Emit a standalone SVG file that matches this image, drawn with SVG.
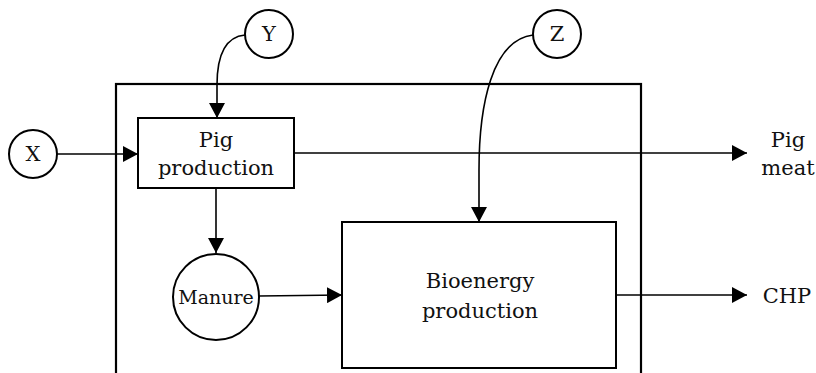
<svg xmlns="http://www.w3.org/2000/svg" width="816" height="373" viewBox="0 0 816 373">
<style>
  .box { fill: #fff; stroke: #000; stroke-width: 2; }
  .frame { fill: none; stroke: #000; stroke-width: 2.2; }
  .conn { fill: none; stroke: #000; stroke-width: 1.6; }
  text { font-family: "DejaVu Serif", "Liberation Serif", serif; fill: #111; text-anchor: middle; }
  .t21 { font-size: 21px; }
  .t19 { font-size: 19px; }
</style>
<defs>
  <marker id="arr" markerUnits="userSpaceOnUse" markerWidth="15" markerHeight="16" refX="15" refY="8" orient="auto">
    <path d="M0,0 L15,8 L0,16 z" fill="#000"/>
  </marker>
</defs>
<rect width="816" height="373" fill="#fff"/>
<g id="system-boundary">
  <rect class="frame" x="116" y="84" width="525" height="310"/>
</g>
<g id="connectors">
  <path class="conn" d="M57,154 L138,154" marker-end="url(#arr)"/>
  <path class="conn" d="M245,35 C223,37 217,60 217,85 L217,118" marker-end="url(#arr)"/>
  <path class="conn" d="M294,153 L747,153" marker-end="url(#arr)"/>
  <path class="conn" d="M533,35 C492,40 479,105 479,170 L479,222" marker-end="url(#arr)"/>
  <path class="conn" d="M216,188 L216,253" marker-end="url(#arr)"/>
  <path class="conn" d="M259,296 L342,295" marker-end="url(#arr)"/>
  <path class="conn" d="M616,295 L747,295" marker-end="url(#arr)"/>
</g>
<g id="node-x">
  <circle class="box" cx="33" cy="154" r="24"/>
  <text class="t21" x="33" y="161">X</text>
</g>
<g id="node-y">
  <circle class="box" cx="269" cy="34" r="24"/>
  <text class="t21" x="269" y="41">Y</text>
</g>
<g id="node-z">
  <circle class="box" cx="557" cy="34" r="24"/>
  <text class="t21" x="557" y="41">Z</text>
</g>
<g id="node-pig-production">
  <rect class="box" x="138" y="118" width="156" height="70"/>
  <text class="t21" x="216" y="147">Pig</text>
  <text class="t21" x="216" y="175">production</text>
</g>
<g id="node-manure">
  <circle class="box" cx="216" cy="297" r="43"/>
  <text class="t19" x="216" y="304">Manure</text>
</g>
<g id="node-bioenergy">
  <rect class="box" x="342" y="222" width="274" height="146"/>
  <text class="t21" x="480" y="288">Bioenergy</text>
  <text class="t21" x="480" y="318">production</text>
</g>
<g id="output-pig-meat">
  <text class="t21" x="788" y="147">Pig</text>
  <text class="t21" x="788" y="175">meat</text>
</g>
<g id="output-chp">
  <text class="t21" x="787" y="303">CHP</text>
</g>
</svg>
